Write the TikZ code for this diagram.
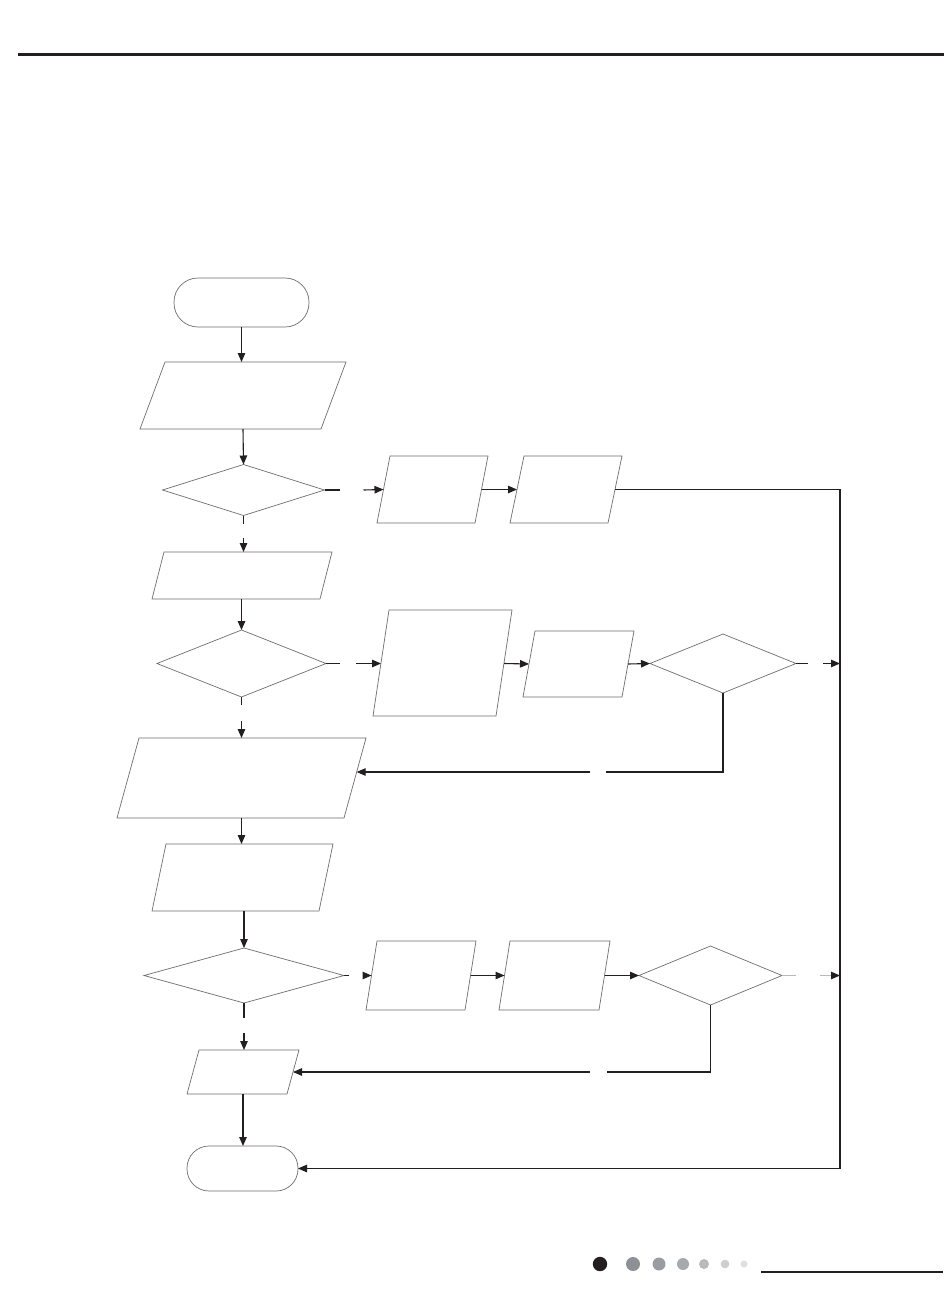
\documentclass[tikz,border=0pt]{standalone}
\usetikzlibrary{arrows.meta,calc,shapes.geometric}
\definecolor{ink}{HTML}{231F20}
\definecolor{shapegray}{HTML}{6D6E71}
\definecolor{dotA}{HTML}{8E9096}
\definecolor{dotB}{HTML}{9A9CA1}
\definecolor{dotC}{HTML}{A7A9AC}
\definecolor{dotD}{HTML}{B8BABD}
\definecolor{dotE}{HTML}{CDCFD1}
\definecolor{dotF}{HTML}{DFE0E1}
\tikzset{
  shp/.style={draw=shapegray,line width=0.7pt},
  box/.style={draw=none,inner sep=0pt,outer sep=0pt,rectangle},
  term/.style={shp,rectangle,rounded corners=22pt,inner sep=0pt,outer sep=0pt},
  dia/.style={shp,diamond,inner sep=0pt,outer sep=0pt},
  conn/.style={draw=ink,line width=1.1pt},
  arr/.style={conn,-{Triangle[length=9pt,width=7.5pt]}},
}
\newcommand\mypara[6]{%
  \node[box,minimum width=#4pt,minimum height=#5pt] (#1) at (#2,#3) {};
  \draw[shp] ($(#1.north west)+(#6,0)$) -- (#1.north east) -- ($(#1.south east)-(#6,0)$) -- (#1.south west) -- cycle;
  \coordinate (#1-l) at ($(#1.west)+(#6/2,0)$);
  \coordinate (#1-r) at ($(#1.east)-(#6/2,0)$);
}
\begin{document}
\begin{tikzpicture}[x=1pt,y=-1pt]
\useasboundingbox (0,0) rectangle (950,1296);
\fill[white] (0,0) rectangle (950,1296);
% header rule
\draw[draw=ink,line width=3pt] (18,54) -- (944,54);
% terminals
\node[term,minimum width=135pt,minimum height=49pt,rounded corners=24pt] (start) at (241.5,302.5) {};
\node[term,minimum width=111pt,minimum height=45pt] (end) at (242.5,1168.5) {};
% parallelograms
\mypara{p1}{243}{395.5}{206}{67}{25}
\mypara{p2a}{432.5}{489.5}{111}{67}{13}
\mypara{p2b}{566}{489.5}{112}{67}{14}
\mypara{p3}{242}{575.5}{180}{47}{12}
\mypara{p4}{442.5}{663}{139}{106}{16}
\mypara{p5}{578.5}{664}{111}{66}{12}
\mypara{p6}{241.5}{778}{249}{80}{22}
\mypara{p7}{242.5}{877.5}{181}{67}{14}
\mypara{p8}{421}{975.5}{110}{69}{11}
\mypara{p9}{554.5}{975.5}{111}{69}{11}
\mypara{p10}{243}{1072}{112}{44}{12}
% diamonds
\node[dia,minimum width=162pt,minimum height=51pt] (d1) at (243.5,490) {};
\node[dia,minimum width=169pt,minimum height=67pt] (d2) at (241.5,663.5) {};
\node[dia,minimum width=146pt,minimum height=59pt] (d3) at (723,663.5) {};
\node[dia,minimum width=200pt,minimum height=55pt] (d4) at (244,975.5) {};
\node[dia,minimum width=143pt,minimum height=59pt] (d5) at (710.5,975.5) {};
% right bus coordinates
\coordinate (rt) at (840,489.5);
\coordinate (rb) at (840,1168.5);
\coordinate (p6in) at ($(p6.north east)!0.425!($(p6.south east)-(22,0)$)$);
% main column
\draw[arr] (start.south) -- (start.south |- p1.north);
\draw[arr] (p1.south) -- (d1.north);
\draw[conn] (d1.south) -- ++(0,8);
\draw[arr] ($(d1.south)+(0,22)$) -- (d1.south |- p3.north);
\draw[arr] (p3.south -| d2.north) -- (d2.north);
\draw[conn] (d2.south) -- ++(0,8);
\draw[arr] ($(d2.south)+(0,24)$) -- (d2.south |- p6.north);
\draw[arr] (p6.south) -- (p6.south |- p7.north);
\draw[arr] (p7.south -| d4.north) -- (d4.north);
\draw[conn] (d4.south) -- ++(0,15);
\draw[arr] ($(d4.south)+(0,30)$) -- (d4.south |- p10.north);
\draw[arr] (p10.south) -- (p10.south |- end.north);
% first branch
\draw[conn] (d1.east) -- ++(15,0);
\draw[arr] ($(d1.east)+(39,0)$) -- (p2a-l);
\draw[arr] (p2a-r) -- (p2b-l);
\draw[arr] (p2b-r) -- (rt) -- (rb) -- (end.east);
% second branch
\draw[conn] (d2.east) -- ++(14,0);
\draw[arr] ($(d2.east)+(30,0)$) -- (p4-l |- d2.east);
\draw[arr] (p4-r |- d2.east) -- ($(p5.north west)!0.5!($(p5.south west)+(12,0)$)$);
\draw[arr] ($(p5.north east)!0.5!($(p5.south east)-(12,0)$)$) -- (d3.west);
\draw[conn] (d3.east) -- ++(12,0);
\draw[arr] ($(d3.east)+(27,0)$) -- (d3.east -| rt);
\draw[conn] (d3.south) -- (d3.south |- p6in) -- (606,0 |- p6in);
\draw[arr] (590,0 |- p6in) -- (p6in);
% third branch
\draw[conn] (d4.east) -- ++(5,0);
\draw[arr] ($(d4.east)+(21,0)$) -- (p8-l);
\draw[arr] (p8-r) -- (p9-l);
\draw[arr] (p9-r) -- (d5.west);
\draw[draw=gray!55,line width=1.1pt] (d5.east) -- ++(14,0);
\draw[draw=gray!55,line width=1.1pt,-{Triangle[length=9pt,width=7.5pt,color=ink]}] ($(d5.east)+(38,0)$) -- (d5.east -| rt);
\draw[conn] (d5.south) -- (d5.south |- p10-r) -- (607,0 |- p10-r);
\draw[arr] (590,0 |- p10-r) -- (p10-r);
% footer dots and rule
\fill[ink] (600,1264) circle (7.2);
\fill[dotA] (633,1264) circle (7);
\fill[dotB] (659,1264) circle (6.5);
\fill[dotC] (683,1264) circle (6);
\fill[dotD] (704,1264) circle (5);
\fill[dotE] (725,1264) circle (4.3);
\fill[dotF] (744,1264) circle (3.5);
\draw[draw=ink,line width=2pt] (761,1272) -- (943,1272);
\end{tikzpicture}
\end{document}
